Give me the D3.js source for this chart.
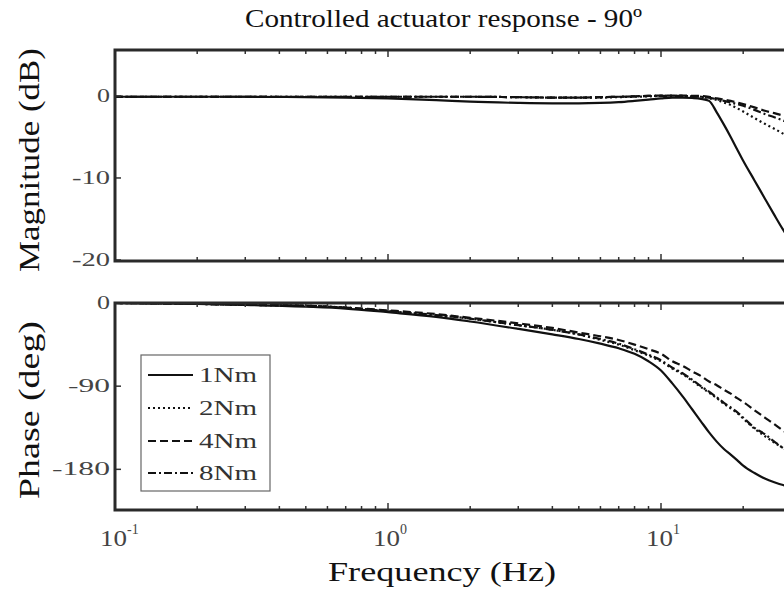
<!DOCTYPE html>
<html><head><meta charset="utf-8">
<script src="https://cdn.jsdelivr.net/npm/d3@7"></script>
<style>html,body{margin:0;padding:0;background:#fff;overflow:hidden}</style>
</head><body>
<svg id="c" width="784" height="589"></svg>
<script>
const freqs = [0.1,0.2,0.3,0.5,0.7,1,1.5,2,3,4,5,6,7,8,9,10,11,12,13,14,15,16,17,18,19,20,22,24,26,28,29];
const seriesNames = ["1Nm","2Nm","4Nm","8Nm"];
const mag1 = [-0.1,-0.1,-0.1,-0.15,-0.2,-0.3,-0.5,-0.7,-0.85,-0.9,-0.9,-0.85,-0.75,-0.6,-0.45,-0.3,-0.2,-0.2,-0.25,-0.35,-0.6,-2.0,-3.5,-5.0,-6.5,-7.9,-10.3,-12.5,-14.5,-16.3,-17.1];
const mag2 = [-0.1,-0.1,-0.1,-0.1,-0.1,-0.1,-0.1,-0.1,-0.15,-0.2,-0.2,-0.2,-0.15,-0.1,-0.05,0,0,0,-0.05,-0.1,-0.3,-0.5,-0.8,-1.1,-1.5,-1.9,-2.7,-3.4,-4.0,-4.6,-4.9];
const mag4 = [-0.1,-0.1,-0.1,-0.1,-0.1,-0.1,-0.1,-0.1,-0.15,-0.2,-0.2,-0.15,-0.1,-0.05,0,0.05,0.05,0.05,0,0,-0.1,-0.3,-0.45,-0.6,-0.8,-1.0,-1.4,-1.8,-2.1,-2.4,-2.55];
const mag8 = [-0.1,-0.1,-0.1,-0.1,-0.1,-0.1,-0.1,-0.1,-0.15,-0.2,-0.2,-0.15,-0.1,-0.05,0,0,0,0,-0.05,-0.1,-0.2,-0.4,-0.6,-0.8,-1.0,-1.2,-1.7,-2.2,-2.6,-3.0,-3.2];
const ph1 = [0,-1,-2,-4,-6,-10,-15,-20,-28,-34,-39,-44,-49,-55,-63,-73,-87,-101,-115,-128,-140,-150,-158,-164,-170,-176,-184,-190,-194,-197,-198];
const ph2 = [0,-1,-2,-3,-5,-9,-13,-17,-24,-29,-34,-40,-45,-51,-57,-63,-71,-77,-84,-91,-97,-103,-109,-114,-119,-125,-136,-144,-151,-157,-160];
const ph4 = [0,-1,-1.5,-3,-5,-8,-12,-16,-22,-27,-32,-36,-40,-45,-50,-55,-63,-68,-74,-79,-85,-89,-94,-98,-103,-107,-116,-124,-131,-138,-141];
const ph8 = [0,-1,-2,-3,-5,-9,-13,-17,-24,-29,-34,-39,-44,-50,-56,-62,-70,-76,-83,-90,-96,-102,-108,-113,-118,-124,-135,-142,-150,-157,-160];
const magTicks = [0,-10,-20];
const phaseTicks = [0,-90,-180];
const xMajor = [0.1,1,10,100];
const xLabelVals = [0.1,1,10];
const xExp = ["-1","0","1"];

const svg = d3.select("#c");
const FONT = "'Liberation Serif','Times New Roman',serif";
const x = d3.scaleLog().domain([0.1,100]).range([115,934]);
const yMag = d3.scaleLinear().domain([-20,5.6]).range([260,50]);
const yPh = d3.scaleLinear().domain([-224,0]).range([510,303]);

const styles = [{dash:null},{dash:"2,3"},{dash:"8,4"},{dash:"8,3,2,3"}];
const magSeries = [mag1,mag2,mag4,mag8];
const phSeries = [ph1,ph2,ph4,ph8];

const minor = [];
[0.1,1,10].forEach(d=>{for(let k=2;k<=9;k++) minor.push(d*k);});

function stretch(sel, len) {
  sel.attr("textLength", len).attr("lengthAdjust","spacingAndGlyphs");
  return sel;
}
const yLabW = {"0":13,"-10":38,"-20":38,"-90":42,"-180":58};

function panel(yScale, series, ticks, top, bottom) {
  const g = svg.append("g");
  const line = d3.line().x((d,i)=>x(freqs[i])).y(d=>yScale(d)).curve(d3.curveMonotoneX);
  series.forEach((s,i)=>{
    g.append("path").datum(s).attr("d",line).attr("fill","none")
     .attr("stroke","#111").attr("stroke-width",2.2)
     .attr("stroke-dasharray",styles[i].dash);
  });
  const tk = g.append("g").attr("stroke","#333").attr("stroke-width",1.5);
  minor.forEach(f=>{
    tk.append("line").attr("x1",x(f)).attr("x2",x(f)).attr("y1",top).attr("y2",top+4);
    tk.append("line").attr("x1",x(f)).attr("x2",x(f)).attr("y1",bottom).attr("y2",bottom-4);
  });
  xMajor.forEach(f=>{
    tk.append("line").attr("x1",x(f)).attr("x2",x(f)).attr("y1",top).attr("y2",top+7);
    tk.append("line").attr("x1",x(f)).attr("x2",x(f)).attr("y1",bottom).attr("y2",bottom-7);
  });
  ticks.forEach(t=>{
    tk.append("line").attr("x1",115).attr("x2",121).attr("y1",yScale(t)).attr("y2",yScale(t));
    const w = yLabW[String(t)];
    stretch(g.append("text").attr("x",110-w).attr("y",yScale(t)+6)
     .attr("font-family",FONT).attr("font-size",19).attr("fill","#444").text(t), w);
  });
  g.append("rect").attr("x",115).attr("y",top).attr("width",x(100)-115).attr("height",bottom-top)
   .attr("fill","none").attr("stroke","#2a2a2a").attr("stroke-width",3);
}
panel(yMag, magSeries, magTicks, 50, 261);
panel(yPh, phSeries, phaseTicks, 303, 510);

// x tick labels
xLabelVals.forEach((f,i)=>{
  const cx = x(f);
  stretch(svg.append("text").attr("x",cx-15).attr("y",546)
    .attr("font-family",FONT).attr("font-size",23).attr("fill","#444").text("10"), 27);
  svg.append("text").attr("x",cx+12).attr("y",534)
    .attr("font-family",FONT).attr("font-size",14).attr("fill","#444").text(xExp[i]);
});

// title & labels
stretch(svg.append("text").attr("x",245).attr("y",27)
  .attr("font-family",FONT).attr("font-size",26).attr("fill","#111")
  .text("Controlled actuator response - 90º"), 397);
stretch(svg.append("text").attr("transform","translate(39,272) rotate(-90)")
  .attr("font-family",FONT).attr("font-size",29).attr("fill","#111").text("Magnitude (dB)"), 224);
stretch(svg.append("text").attr("transform","translate(39,499) rotate(-90)")
  .attr("font-family",FONT).attr("font-size",29).attr("fill","#111").text("Phase (deg)"), 178);
stretch(svg.append("text").attr("x",328).attr("y",581)
  .attr("font-family",FONT).attr("font-size",27).attr("fill","#111").text("Frequency (Hz)"), 228);

// legend
const lg = svg.append("g");
lg.append("rect").attr("x",141).attr("y",355).attr("width",129).attr("height",136)
  .attr("fill","#fff").attr("stroke","#666").attr("stroke-width",1.2);
const ly = [375,408,441,473];
seriesNames.forEach((n,i)=>{
  lg.append("line").attr("x1",148).attr("x2",193).attr("y1",ly[i]).attr("y2",ly[i])
    .attr("stroke","#111").attr("stroke-width",2.2).attr("stroke-dasharray",styles[i].dash);
  stretch(lg.append("text").attr("x",199).attr("y",ly[i]+7).attr("font-family",FONT)
    .attr("font-size",20).attr("fill","#333").text(n), 58);
});
</script>
</body></html>
